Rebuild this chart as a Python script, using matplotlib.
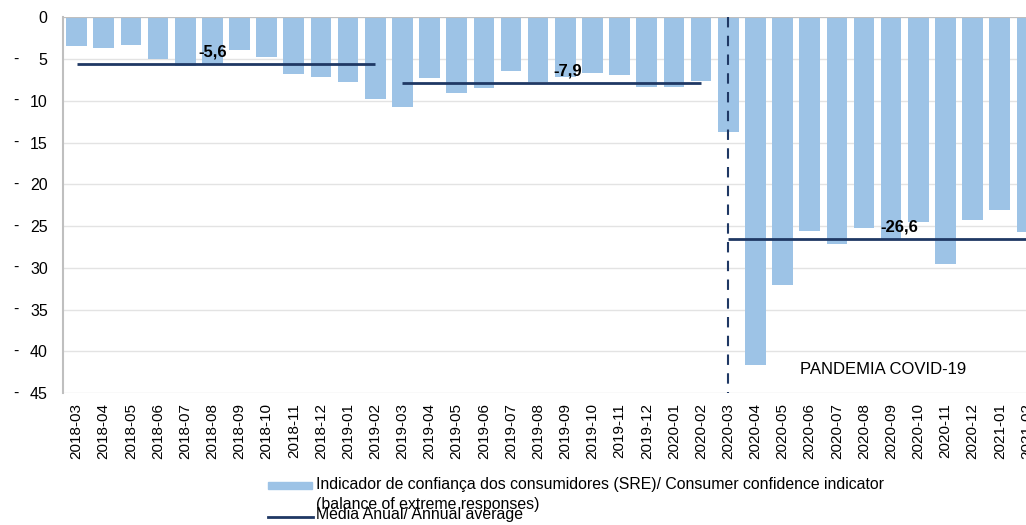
import matplotlib
matplotlib.use("Agg")
import matplotlib.pyplot as plt
import matplotlib.transforms as mtransforms
from matplotlib.patches import Rectangle
from matplotlib.lines import Line2D

plt.rcParams["font.family"] = ["Liberation Sans", "DejaVu Sans"]

# Monthly consumer confidence indicator (SRE), balance of extreme responses
months = [
    "2018-03", "2018-04", "2018-05", "2018-06", "2018-07", "2018-08",
    "2018-09", "2018-10", "2018-11", "2018-12", "2019-01", "2019-02",
    "2019-03", "2019-04", "2019-05", "2019-06", "2019-07", "2019-08",
    "2019-09", "2019-10", "2019-11", "2019-12", "2020-01", "2020-02",
    "2020-03", "2020-04", "2020-05", "2020-06", "2020-07", "2020-08",
    "2020-09", "2020-10", "2020-11", "2020-12", "2021-01", "2021-02",
]
confidence = [
    -3.4, -3.7, -3.3, -5.0, -5.8, -5.7,
    -3.9, -4.8, -6.8, -7.2, -7.8, -9.8,
    -10.7, -7.3, -9.1, -8.5, -6.4, -7.8,
    -7.1, -6.7, -6.9, -8.3, -8.4, -7.6,
    -13.7, -41.6, -32.1, -25.6, -27.1, -25.2,
    -26.7, -24.5, -29.6, -24.3, -23.1, -25.7,
]

# Annual averages: (first month, last month, value, label x position)
avg_start = ["2018-03", "2019-03", "2020-03"]
avg_end = ["2019-02", "2020-02", "2021-02"]
avg_value = [-5.6, -7.9, -26.6]
avg_label_x = [5.0, 18.1, 30.3]
avg_labels = ["-5,6", "-7,9", "-26,6"]

pandemic_start = "2020-03"
y_ticks = [0, -5, -10, -15, -20, -25, -30, -35, -40, -45]

BAR = "#9DC3E6"
NAVY = "#1F3864"
GRID = "#E3E3E3"
AXIS = "#BFBFBF"

W, H = 1026, 525
fig = plt.figure(figsize=(W / 100, H / 100), dpi=100)
ax = fig.add_axes([63 / W, 1 - 393 / H, (1040.5 - 63) / W, (393 - 17.3) / H])

x = list(range(len(months)))
ax.bar(x, confidence, width=0.76, color=BAR, zorder=2)

ax.set_xlim(-0.5, len(months) - 0.5)
ax.set_ylim(-45, 0)

# averages
for s, e, v in zip(avg_start, avg_end, avg_value):
    i0 = months.index(s)
    i1 = months.index(e)
    xe = i1 if e != months[-1] else len(months)
    ax.plot([i0, xe], [v, v], color=NAVY, lw=2.0, zorder=4, clip_on=True,
            solid_capstyle="butt")
for lx, v, t in zip(avg_label_x, avg_value, avg_labels):
    ax.annotate(t, (lx, v), xytext=(0, 9), textcoords="offset points",
                ha="center", va="center", fontsize=12, fontweight="bold",
                color="black", zorder=5)

# pandemic marker
ip = months.index(pandemic_start)
ax.plot([ip, ip], [0, -45], color=NAVY, lw=1.5, linestyle=(0, (5, 4)),
        zorder=4, clip_on=False)
ax.text(29.7, -42.2, "PANDEMIA COVID-19", ha="center", va="center",
        fontsize=12, color="black", zorder=5)

# grid and spines
ax.set_yticks(y_ticks)
ax.yaxis.grid(True, color=GRID, lw=1.0, zorder=0)
ax.set_axisbelow(True)
ax.axhline(0, color=AXIS, lw=1.5, zorder=3)
for side in ["top", "right", "bottom"]:
    ax.spines[side].set_visible(False)
ax.spines["left"].set_color(AXIS)
ax.spines["left"].set_linewidth(1.5)

ax.set_yticklabels([str(abs(t)) for t in y_ticks], fontsize=11.5)
ax.tick_params(axis="y", length=0, pad=11)
ax.set_xticks(x)
ax.set_xticklabels(months, rotation=90, fontsize=11, va="top", ha="center")
ax.tick_params(axis="x", length=0, pad=7)

# accounting-style leading dashes on the negative ticks
tr = mtransforms.blended_transform_factory(fig.transFigure, ax.transData)
for t in y_ticks:
    if t < 0:
        fig.text(16 / W, t, "-", transform=tr, ha="center", va="center",
                 fontsize=11.5)

# legend
fig.patches.append(Rectangle((268 / W, 1 - 488.5 / H), 44 / W, 7 / H,
                             transform=fig.transFigure, color=BAR))
fig.text(316 / W, 1 - 485 / H,
         "Indicador de confiança dos consumidores (SRE)/ Consumer confidence indicator",
         ha="left", va="center", fontsize=11.4)
fig.text(316 / W, 1 - 505 / H, "(balance of extreme responses)",
         ha="left", va="center", fontsize=11.4)
fig.lines.append(Line2D([268 / W, 313 / W], [1 - 517 / H, 1 - 517 / H],
                        transform=fig.transFigure, color=NAVY, lw=2.0))
fig.text(316 / W, 1 - 515 / H, "Média Anual/ Annual average",
         ha="left", va="center", fontsize=11.4)

fig.savefig("out.png", dpi=100)
